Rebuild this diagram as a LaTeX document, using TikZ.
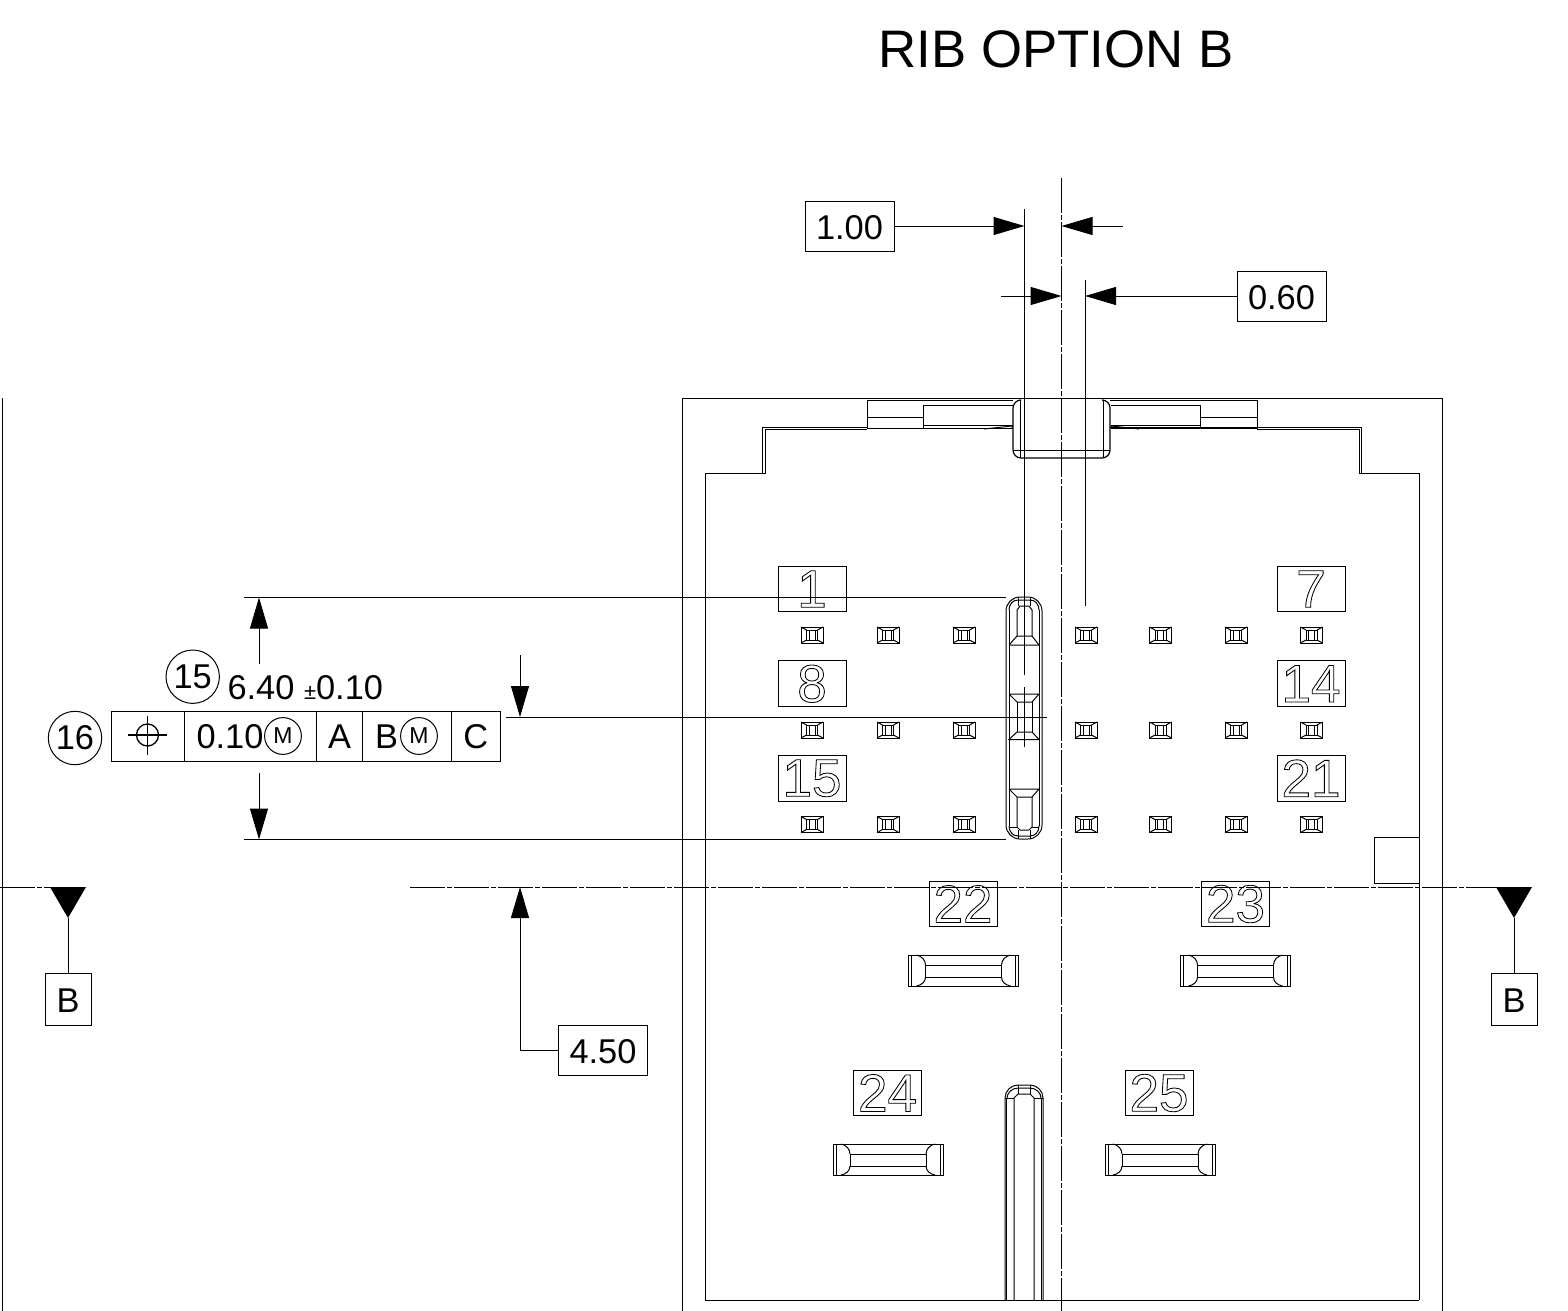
\documentclass[tikz,border=0pt]{standalone}
\usepackage{fontspec}
\setmainfont{Liberation Sans}
\usetikzlibrary{arrows.meta}
\newcommand\outl[1]{\special{pdf:code 1 Tr 0.42 w}#1\special{pdf:code 0 Tr 0.5 w}}
\newcommand\sqpad[2]{\begin{scope}[shift={(#1,#2)},pad]
  \draw (-11,-8) rectangle (11,8);
  \draw (-5.5,-5) rectangle (5.5,5);
  \draw (-11,-8)--(-5.5,-5) (11,-8)--(5.5,-5) (-11,8)--(-5.5,5) (11,8)--(5.5,5);
  \draw (-3,-5)--(-3,5) (3,-5)--(3,5);
\end{scope}}
\newcommand\hpad[2]{\begin{scope}[shift={(#1,#2)},pad]
  \draw (0,0) rectangle (110,31);
  \draw (17,10) rectangle (93,22);
  \draw (3,0)--(3,31) (107,0)--(107,31);
  \draw (8,0) .. controls (13,1) and (17,5) .. (17,10);
  \draw (8,31) .. controls (13,30) and (17,27) .. (17,22);
  \draw (102,0) .. controls (97,1) and (93,5) .. (93,10);
  \draw (102,31) .. controls (97,30) and (93,27) .. (93,22);
\end{scope}}
\tikzset{
  pad/.style={line width=0.5pt},
  base/.style={font=\fontsize{17.2pt}{20pt}\selectfont,inner sep=0pt},
  numbox/.style={draw,inner sep=0pt,minimum width=34pt,minimum height=22.8pt,font=\fontsize{26.5pt}{30pt}\selectfont},
  dimbox/.style={draw,base,minimum width=44.5pt,minimum height=25pt,text height=13.4pt},
  bbox/.style={draw,base,minimum width=23pt,minimum height=26pt,text height=13.4pt},
  cell/.style={draw,base,minimum height=24.7pt},
  balloon/.style={draw,circle,base,minimum size=26.7pt},
  mcirc/.style={draw,circle,inner sep=0pt,minimum size=18.4pt,font=\fontsize{11.5pt}{13pt}\selectfont},
  tip/.style={-{Triangle[length=15.5pt,width=9pt]}},
  cline/.style={dash pattern=on 17.5pt off 1pt on 2.5pt off 1pt},
}
\begin{document}
\begin{tikzpicture}[x=0.5pt,y=-0.5pt,line width=0.5pt]
\useasboundingbox (0,0) rectangle (1568,1311);
% title
\node[inner sep=0pt,anchor=base west,font=\fontsize{26.4pt}{30pt}\selectfont] (title) at (878,68) {RIB OPTION B};
% body outline
\draw (2,398)--(2,1311);
\draw (682,1311)--(682,398)--(1442,398)--(1442,1311);
\draw (762.5,473)--(762.5,427)--(867,427) (1110,427)--(1361.5,427)--(1361.5,473);
\draw (705,1300)--(705,473)--(765,473)--(765,429)--(867,429);
\draw (1419,1300)--(1419,473)--(1359,473)--(1359,429)--(1257,429);
\draw (705,1300)--(1419,1300);
\draw (1374,837) rectangle (1419,883);
% top tab
\draw (867,429)--(867,400)--(1013,400) (1110,400)--(1257,400)--(1257,429);
\draw (867,417)--(923,417) (1200,417)--(1257,417);
\draw (923,429)--(923,405)--(1013,405) (1200,429)--(1200,405)--(1111,405);
\draw (923,425)--(1013,425) (1111,425)--(1200,425);
\draw (867,428)--(1013,428) (1111,428)--(1257,428);
\draw[line width=0.6pt,rounded corners=4pt] (1020,400)--(1013,400)--(1013,458)--(1110,458)--(1110,400)--(1103,400);
\draw (1020,400)--(1020,458) (1103,400)--(1103,458) (1013,450)--(1110,450);
\draw (984,429)--(1012,426)--(1012,428) (1139,429)--(1111,426)--(1111,428);
% rib
\draw[rounded corners=7pt] (1006,597) rectangle (1042,839);
\draw (1009,610)--(1009,826) (1039,610)--(1039,826);
\draw (1009,610) .. controls (1009,604) and (1013,600) .. (1018,600) -- (1030,600) .. controls (1035,600) and (1039,604) .. (1039,610);
\draw (1009,826) .. controls (1009,832) and (1013,836) .. (1018,836) -- (1030,836) .. controls (1035,836) and (1039,832) .. (1039,826);
\draw (1018,597)--(1018,606) (1030,597)--(1030,606) (1018,830)--(1018,839) (1030,830)--(1030,839);
\draw (1017,636)--(1017,610)--(1020,606)--(1029,606)--(1032,610)--(1032,636);
\draw (1009,645)--(1039,645) (1009,645)--(1017,636)--(1032,636)--(1039,645);
\draw (1009,694)--(1039,694) (1009,694)--(1017,702)--(1032,702)--(1039,694);
\draw (1017,702)--(1017,732) (1032,702)--(1032,732);
\draw (1009,739.5)--(1017,732)--(1032,732)--(1039,739.5)--cycle;
\draw (1009,789)--(1039,789) (1009,789)--(1017,797)--(1032,797)--(1039,789);
\draw (1017,797)--(1017,827)--(1020,830)--(1029,830)--(1032,827)--(1032,797);
\draw (1009,827)--(1017,827) (1032,827)--(1039,827);
% lower rib
\draw (1005,1300)--(1005,1098) .. controls (1005,1091) and (1011,1085) .. (1018,1085)--(1030,1085) .. controls (1037,1085) and (1043,1091) .. (1043,1098)--(1043,1300);
\draw (1006.5,1300)--(1006.5,1098) (1041.5,1300)--(1041.5,1098);
\draw (1005,1098)--(1014,1098) (1034,1098)--(1043,1098);
\draw (1014,1300)--(1014,1098)--(1018,1094)--(1030,1094)--(1034,1098)--(1034,1300);
\draw (1018,1085)--(1018,1094) (1030,1085)--(1030,1094);
\draw (1007,1098) .. controls (1007,1093) and (1012,1088) .. (1018,1088)--(1030,1088) .. controls (1036,1088) and (1041,1093) .. (1041,1098);
% centre lines
\draw[cline] (1061.5,178)--(1061.5,1311);
\draw[cline] (410,887)--(1497,887);
\draw[cline] (0,887)--(50,887);
% number boxes
\node[numbox] (n1) at (812,589) {\outl{1}};
\node[numbox] (n8) at (812,683.7) {\outl{8}};
\node[numbox] (n15) at (812,778.3) {\outl{15}};
\node[numbox] (n7) at (1311,589) {\outl{7}};
\node[numbox] (n14) at (1311,683.7) {\outl{14}};
\node[numbox] (n21) at (1311,778.3) {\outl{21}};
\node[numbox] (n22) at (963,904) {\outl{22}};
\node[numbox] (n23) at (1235.5,904) {\outl{23}};
\node[numbox] (n24) at (887.5,1093) {\outl{24}};
\node[numbox] (n25) at (1159,1093) {\outl{25}};
% pads
\foreach \py in {635,730,824.5}{
  \foreach \px in {812,888,964,1086,1160.5,1236,1311.5}{\sqpad{\px}{\py}}}
\hpad{908.5}{955}
\hpad{1180.5}{955}
\hpad{833}{1144}
\hpad{1105}{1144}
% extension lines
\coordinate (c1t) at (1024.5,209);
\coordinate (c1b) at (1024.5,675);
\coordinate (c6t) at (1085,280);
\coordinate (c6b) at (1085,606);
\draw (c1t)--(c1b);
\draw (c6t)--(c6b);
\draw (1024.5,687)--(1024.5,747);
% dim 1.00
\node[dimbox] (d100) at (849.5,226) {1.00};
\coordinate (t1) at (1024.5,226);
\coordinate (t2) at (1061.5,226);
\coordinate (e2) at (1123,226);
\draw[tip] (d100.east)--(t1);
\draw[tip] (e2)--(t2);
% dim 0.60
\node[dimbox] (d060) at (1281.5,296) {0.60};
\coordinate (t3) at (1085,296);
\coordinate (t4) at (1061.5,296);
\coordinate (e4) at (1001,296);
\draw[tip] (d060.west)--(t3);
\draw[tip] (e4)--(t4);
% dim 6.40
\coordinate (x1a) at (244,597.5);
\coordinate (x1b) at (1006,597.5);
\coordinate (x2a) at (244,839.5);
\coordinate (x2b) at (1006,839.5);
\draw (x1a)--(x1b);
\draw (x2a)--(x2b);
\coordinate (a1) at (259,664);
\coordinate (a1t) at (259,597.5);
\coordinate (a2) at (259,773);
\coordinate (a2t) at (259,839.5);
\draw[tip] (a1)--(a1t);
\draw[tip] (a2)--(a2t);
% centre mark
\coordinate (m1) at (506,717);
\coordinate (m2) at (1047,717);
\draw (m1)--(m2);
\coordinate (m3) at (520,655);
\coordinate (m3t) at (520,717);
\draw[tip] (m3)--(m3t);
% 4.50
\node[dimbox] (d450) at (603,1050) {4.50};
\coordinate (t5) at (520,887);
\coordinate (k5) at (520,1050);
\draw[tip] (d450.west)--(k5)--(t5);
% section B
\node[bbox] (b1) at (68,999) {B};
\node[bbox] (b2) at (1514,999) {B};
\draw (b1.north)--(68,918);
\path[fill] (50,887)--(86,887)--(68,918)--cycle;
\draw (b2.north)--(1514,918);
\path[fill] (1496,887)--(1532,887)--(1514,918)--cycle;
% tolerance frame
\node[cell,minimum width=36.2pt] (f1) at (148,736.5) {};
\node[cell,minimum width=66.4pt] (f2) at (250.4,736.5) {};
\node[cell,minimum width=23pt] (f3) at (339.7,736.5) {A};
\node[cell,minimum width=44.5pt] (f4) at (407.2,736.5) {};
\node[cell,minimum width=24.2pt] (f5) at (475.9,736.5) {C};
\node[base,anchor=base west] (v010) at (196,748) {0.10};
\node[base,anchor=base] (vB) at (386.5,748) {B};
\node[mcirc] (m01) at (283,736) {M};
\node[mcirc] (m02) at (419,736) {M};
\node[draw,circle,inner sep=0pt,minimum size=11pt,line width=0.65pt] (pos) at (147.5,735) {};
\coordinate (p1) at (128,735);
\coordinate (p2) at (167,735);
\coordinate (p3) at (147.5,716);
\coordinate (p4) at (147.5,755);
\draw[line width=0.65pt] (p1)--(p2) (p3)--(p4);
\node[balloon] (b16) at (75,738) {16};
\node[balloon] (b15) at (192.7,676.7) {15};
\node[base,anchor=base west] (v640) at (227,699) {6.40 {\fontsize{11pt}{13pt}\selectfont ±}0.10};
\end{tikzpicture}
\end{document}
